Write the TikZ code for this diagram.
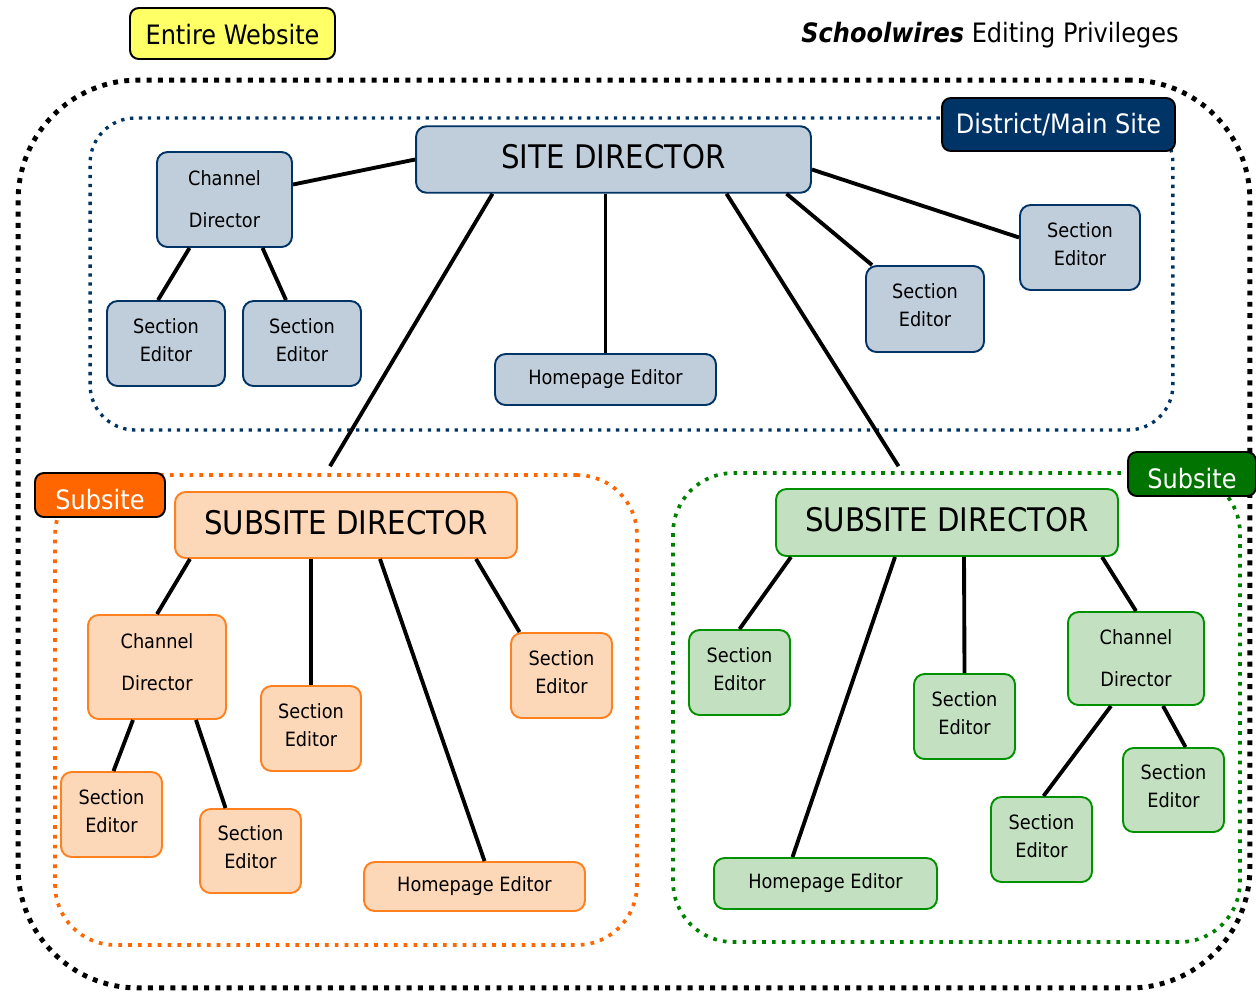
\documentclass[tikz,border=0pt]{standalone}
\usepackage{fontspec}
\setmainfont{DejaVuSansCondensed}[Extension=.ttf, BoldFont=*-Bold, ItalicFont=*-Oblique, BoldItalicFont=*-BoldOblique]
\usepackage{tikz}
\usetikzlibrary{shapes,arrows,positioning,calc}

\definecolor{navy}{RGB}{0,51,102}
\definecolor{siteblue}{RGB}{192,205,219}
\definecolor{suborange}{RGB}{255,102,0}
\definecolor{orline}{RGB}{255,128,30}
\definecolor{orfill}{RGB}{252,215,184}
\definecolor{subgreen}{RGB}{0,128,0}
\definecolor{grline}{RGB}{0,145,0}
\definecolor{grfill}{RGB}{195,225,192}
\definecolor{grlabel}{RGB}{0,115,0}
\definecolor{webyellow}{RGB}{255,255,102}

\begin{document}
\begin{tikzpicture}[x=0.02cm,y=-0.02cm]
    \tikzstyle{every node} = [font=\fontsize{11.2}{15.9}\selectfont, inner sep=0pt, align=center]
    \tikzstyle{sitebox} = [draw=navy, fill=siteblue, line width=1.1pt, rounded corners=6pt]
    \tikzstyle{orbox} = [draw=orline, fill=orfill, line width=1.1pt, rounded corners=6pt]
    \tikzstyle{grbox} = [draw=grline, fill=grfill, line width=1.1pt, rounded corners=6pt]
    \tikzstyle{editor} = [minimum width=2.02cm, minimum height=1.7cm, text depth=4.5pt]
    \tikzstyle{chandir} = [minimum width=2.72cm, minimum height=1.9cm]
    \tikzstyle{homeed} = [minimum width=4.42cm, minimum height=1.0cm]
    \tikzstyle{bigdir} = [font=\fontsize{18.5}{22}\selectfont, minimum height=1.33cm, text depth=3.4pt]
    \tikzstyle{tag} = [draw=black, line width=1.1pt, rounded corners=5pt, font=\fontsize{15.2}{18}\selectfont]
    \tikzstyle{area} = [rounded corners=1.2cm, line width=2.1pt, dash pattern=on 2.1pt off 3.5pt]
    \tikzstyle{link} = [line width=2.2pt]
    \useasboundingbox (0,0) rectangle (1256,992);
    % dotted areas
    \node[draw=black, rounded corners=2.4cm, line width=2.8pt, dash pattern=on 2.8pt off 3.6pt,
      minimum width=24.64cm, minimum height=18.16cm] (website) at (634,534) {};
    \node[area, draw=navy, line width=1.9pt, dash pattern=on 1.9pt off 3.2pt, rounded corners=0.9cm,
      minimum width=21.66cm, minimum height=6.24cm] (district) at (631.5,274) {};
    \node[area, draw=suborange, minimum width=11.64cm, minimum height=9.4cm] (orarea) at (346,710) {};
    \node[area, draw=subgreen, minimum width=11.34cm, minimum height=9.38cm] (grarea) at (956.5,707.5) {};
    % place nodes: main site
    \node[sitebox, bigdir, minimum width=7.9cm] (siteDir) at (613.5,159.5) {SITE DIRECTOR};
    \node[sitebox, chandir, minimum width=2.7cm] (siteChan) at (224.5,199.5) {Channel\\[7.9pt]Director};
    \node[sitebox, editor, minimum width=2.36cm] (siteSecA) at (166,343.5) {Section\\Editor};
    \node[sitebox, editor, minimum width=2.36cm] (siteSecB) at (302,343.5) {Section\\Editor};
    \node[sitebox, homeed, minimum height=1.02cm] (siteHome) at (605.5,379.5) {Homepage Editor};
    \node[sitebox, editor, minimum width=2.36cm, minimum height=1.72cm] (siteSecC) at (925,309) {Section\\Editor};
    \node[sitebox, editor, minimum width=2.4cm] (siteSecD) at (1080,247.5) {Section\\Editor};
    % place nodes: orange subsite
    \node[orbox, bigdir, minimum width=6.84cm, minimum height=1.32cm] (orDir) at (346,525) {SUBSITE DIRECTOR};
    \node[orbox, chandir, minimum width=2.76cm, minimum height=2.08cm, text depth=5.6pt] (orChan) at (157,667) {Channel\\[7.9pt]Director};
    \node[orbox, editor, minimum width=2.0cm] (orSecA) at (311,728.5) {Section\\Editor};
    \node[orbox, editor] (orSecB) at (561.5,675.5) {Section\\Editor};
    \node[orbox, editor] (orSecC) at (111.5,814.5) {Section\\Editor};
    \node[orbox, editor, minimum height=1.68cm] (orSecD) at (250.5,851) {Section\\Editor};
    \node[orbox, homeed, minimum height=0.98cm] (orHome) at (474.5,886.5) {Homepage Editor};
    % place nodes: green subsite
    \node[grbox, bigdir, minimum width=6.84cm, minimum height=1.34cm] (grDir) at (947,522.5) {SUBSITE DIRECTOR};
    \node[grbox, editor] (grSecA) at (739.5,672.5) {Section\\Editor};
    \node[grbox, editor] (grSecB) at (964.5,716.5) {Section\\Editor};
    \node[grbox, chandir, minimum height=1.86cm] (grChan) at (1136,658.5) {Channel\\[7.9pt]Director};
    \node[grbox, editor, minimum height=1.68cm] (grSecC) at (1173.5,790) {Section\\Editor};
    \node[grbox, editor] (grSecD) at (1041.5,839.5) {Section\\Editor};
    \node[grbox, homeed, minimum width=4.46cm, minimum height=1.02cm] (grHome) at (825.5,883.5) {Homepage Editor};
    % Connections
    \draw[link] (siteDir.west) -- ($(siteChan.east)+(0,-15)$);
    \draw[link] ($(siteChan.south)+(-35,0)$) -- ($(siteSecA.north)+(-8,0)$);
    \draw[link] ($(siteChan.south)+(38,0)$) -- ($(siteSecB.north)+(-16,0)$);
    \draw[link] ($(siteDir.south)+(-8,0)$) -- (siteHome.north);
    \draw[link] ($(siteDir.south)+(-121,0)$) -- ($(orarea.north)+(-16,-7)$);
    \draw[link] ($(siteDir.south)+(113,0)$) -- ($(grarea.north)+(-58,-5)$);
    \draw[link] ($(siteDir.south)+(173,0)$) -- ($(siteSecC.north)+(-53,0)$);
    \draw[link] ($(siteDir.east)+(0,10)$) -- ($(siteSecD.west)+(0,-10)$);
    \draw[link] ($(orDir.south)+(-156,0)$) -- (orChan.north);
    \draw[link] ($(orDir.south)+(-35,0)$) -- (orSecA.north);
    \draw[link] ($(orDir.south)+(34,0)$) -- ($(orHome.north)+(10,0)$);
    \draw[link] ($(orDir.south)+(130,0)$) -- ($(orSecB.north)+(-42,0)$);
    \draw[link] ($(orChan.south)+(-24,0)$) -- ($(orSecC.north)+(2,0)$);
    \draw[link] ($(orChan.south)+(39,0)$) -- ($(orSecD.north)+(-25,0)$);
    \draw[link] ($(grDir.south)+(-156,0)$) -- (grSecA.north);
    \draw[link] ($(grDir.south)+(-52,0)$) -- ($(grHome.north)+(-33,0)$);
    \draw[link] ($(grDir.south)+(17,0)$) -- (grSecB.north);
    \draw[link] ($(grDir.south)+(155,0)$) -- (grChan.north);
    \draw[link] ($(grChan.south)+(-25,0)$) -- ($(grSecD.north)+(2,0)$);
    \draw[link] ($(grChan.south)+(27,0)$) -- ($(grSecC.north)+(12,0)$);
    % labels
    \node[tag, fill=webyellow, minimum width=4.1cm, minimum height=1.02cm, text height=13pt] (webTag) at (232.5,33.5) {Entire Website};
    \node[tag, fill=navy, text=white, minimum width=4.66cm, minimum height=1.06cm] (siteTag) at (1058.5,124.5) {District/Main Site};
    \node[tag, fill=suborange, text=white, minimum width=2.6cm, minimum height=0.88cm, text height=16pt, text depth=0pt] (orTag) at (100,495) {Subsite};
    \node[tag, fill=grlabel, text=white, minimum width=2.56cm, minimum height=0.88cm, text height=16pt, text depth=0pt] (grTag) at (1192,474) {Subsite};
    \node[font=\fontsize{15.2}{18}\selectfont] (title) at (990,35) {\textbf{\textit{Schoolwires}} Editing Privileges};
\end{tikzpicture}
\end{document}
